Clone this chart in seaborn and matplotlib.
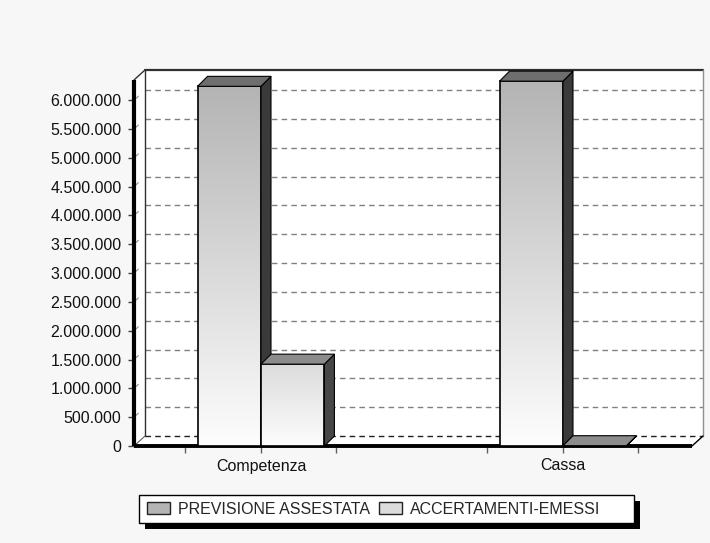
import numpy as np
import pandas as pd
import matplotlib
matplotlib.use('Agg')
import matplotlib.pyplot as plt
import seaborn as sns
from matplotlib.patches import Polygon, Rectangle, Patch
from matplotlib.colors import LinearSegmentedColormap
from matplotlib.ticker import FuncFormatter

# data
categorie = ['Competenza', 'Cassa']
serie = ['PREVISIONE ASSESTATA', 'ACCERTAMENTI-EMESSI']
previsione = [6240000, 6330000]
accertamenti = [1420000, 5000]
y_ticks = [0, 500000, 1000000, 1500000, 2000000, 2500000, 3000000,
           3500000, 4000000, 4500000, 5000000, 5500000, 6000000]

df = pd.DataFrame({
    'categoria': categorie * 2,
    'serie': [serie[0]] * len(categorie) + [serie[1]] * len(categorie),
    'valore': previsione + accertamenti,
})

# colours: swatch, gradient top, top face, side face
colori = ['#b4b4b4', '#dcdcdc']
top_face = ['#6e6e6e', '#8c8c8c']
side_face = ['#3a3a3a', '#474747']

sns.set_style('white')
plt.rcParams['font.family'] = ['Liberation Sans', 'DejaVu Sans']

W, H = 710, 543
fig = plt.figure(figsize=(W / 100, H / 100), dpi=100, facecolor='#f7f7f7')
ax = fig.add_axes([134 / W, 1 - 446 / H, 558 / W, 366 / H])
ax.set_facecolor('none')

sns.barplot(data=df, x='categoria', y='valore', hue='serie', order=categorie,
            hue_order=serie, palette=colori, width=0.42, saturation=1,
            edgecolor='black', linewidth=1.2, errorbar=None, legend=False, ax=ax)

xlo, xhi = -0.4205, 1.4272
ylo, yhi = 0, 6.35e6
ux = (xhi - xlo) / 558   # data units per pixel
uy = (yhi - ylo) / 366

# 3D depth (pixels -> data units)
bdx, bdy = 10 * ux, 10 * uy
wdx, wdy = 11 * ux, 10 * uy

# map bars to series by their colour
def hue_index(p):
    fc = p.get_facecolor()
    return int(np.argmin([abs(fc[0] - matplotlib.colors.to_rgb(c)[0]) for c in colori]))

grad = np.linspace(0, 1, 256).reshape(-1, 1)
for p in list(ax.patches):
    k = hue_index(p)
    x0, w, h = p.get_x(), p.get_width(), p.get_height()
    z = 3 + k
    cmap = LinearSegmentedColormap.from_list('g%d' % k, ['#fdfdfd', colori[k]])
    im = ax.imshow(grad, cmap=cmap, extent=(x0, x0 + w, 0, h), origin='lower',
                   aspect='auto', zorder=z, interpolation='bilinear')
    im.set_clip_path(p)
    p.set_facecolor('none')
    p.set_zorder(z + 0.2)
    side = Polygon([(x0 + w, 0), (x0 + w + bdx, bdy), (x0 + w + bdx, h + bdy), (x0 + w, h)],
                   closed=True, facecolor=side_face[k], edgecolor='black', lw=0.8,
                   zorder=z + 0.3, clip_on=False)
    top = Polygon([(x0, h), (x0 + w, h), (x0 + w + bdx, h + bdy), (x0 + bdx, h + bdy)],
                  closed=True, facecolor=top_face[k], edgecolor='black', lw=0.8,
                  zorder=z + 0.3, clip_on=False)
    ax.add_patch(side)
    ax.add_patch(top)

# box silhouette (white walls)
box = Polygon([(xlo, ylo), (xhi, ylo), (xhi + wdx, ylo + wdy), (xhi + wdx, yhi + wdy),
               (xlo + wdx, yhi + wdy), (xlo, yhi)], closed=True,
              facecolor='white', edgecolor='none', zorder=0.5, clip_on=False)
ax.add_patch(box)

# back wall grid
for v in y_ticks:
    ax.plot([xlo + wdx, xhi + wdx], [v + wdy, v + wdy], ls=(0, (4, 3)),
            color='#202020' if v == 0 else '#808080', lw=1, zorder=1, clip_on=False)
    if v > 0:
        ax.plot([xlo, xlo + 0.4 * wdx], [v, v + 0.4 * wdy], color='#909090', lw=0.8,
                zorder=1, clip_on=False)

# wall outline
kw = dict(clip_on=False, zorder=1.2)
ax.plot([xlo + wdx, xlo + wdx], [wdy, yhi + wdy], color='#303030', lw=1, **kw)
ax.plot([xlo + wdx, xhi + wdx], [yhi + wdy, yhi + wdy], color='#303030', lw=1.6, **kw)
ax.plot([xhi + wdx, xhi + wdx], [wdy, yhi + wdy], color='#909090', lw=1, **kw)
ax.plot([xlo, xlo + wdx], [yhi, yhi + wdy], color='#303030', lw=1, **kw)
ax.plot([xlo, xlo + wdx], [0, wdy], color='#606060', lw=0.8, **kw)
ax.plot([xhi, xhi + wdx], [0, wdy], color='black', lw=1, **kw)
# front axes
ax.plot([xlo, xhi], [0, 0], color='black', lw=2.8, solid_capstyle='butt', **kw)
ax.plot([xlo, xlo], [0, yhi], color='black', lw=3, solid_capstyle='butt', **kw)

for s in ax.spines.values():
    s.set_visible(False)

ax.set_xlim(xlo, xhi)
ax.set_ylim(ylo, yhi)
ax.set_yticks(y_ticks)
ax.yaxis.set_major_formatter(FuncFormatter(lambda v, pos: f'{int(v):,}'.replace(',', '.')))
ax.set_xticks([0, 1])
ax.set_xticklabels(categorie)
ax.set_xticks([-0.25, 0.25, 0.75, 1.25], minor=True)
ax.tick_params(axis='y', which='major', left=True, length=4, width=1, color='#404040',
               pad=5, labelsize=11.5, labelcolor='#111111')
ax.tick_params(axis='x', which='both', bottom=True, length=5, width=1, color='#606060',
               pad=4, labelsize=11.5, labelcolor='#111111')
ax.set_xlabel('')
ax.set_ylabel('')
ax.grid(False)

# legend with black drop shadow
lx0, ly0, lx1, ly1 = 139, 495, 634, 523
fig.add_artist(Rectangle(((lx0 + 6) / W, 1 - (ly1 + 6) / H), (lx1 - lx0) / W, (ly1 - ly0) / H,
                         transform=fig.transFigure, facecolor='black', edgecolor='none', zorder=2))
fig.add_artist(Rectangle((lx0 / W, 1 - ly1 / H), (lx1 - lx0) / W, (ly1 - ly0) / H,
                         transform=fig.transFigure, facecolor='white', edgecolor='black',
                         lw=1, zorder=3))
handles = [Patch(facecolor=c, edgecolor='#222222', lw=1) for c in colori]
fig.legend(handles, serie, loc='center left', bbox_to_anchor=(lx0 / W, 1 - 509 / H),
           ncol=2, frameon=False, borderaxespad=0, borderpad=0.5, handlelength=1.45,
           handleheight=0.85, handletextpad=0.5, columnspacing=0.55, fontsize=11.5)

fig.savefig('out.png', dpi=100, facecolor=fig.get_facecolor())
